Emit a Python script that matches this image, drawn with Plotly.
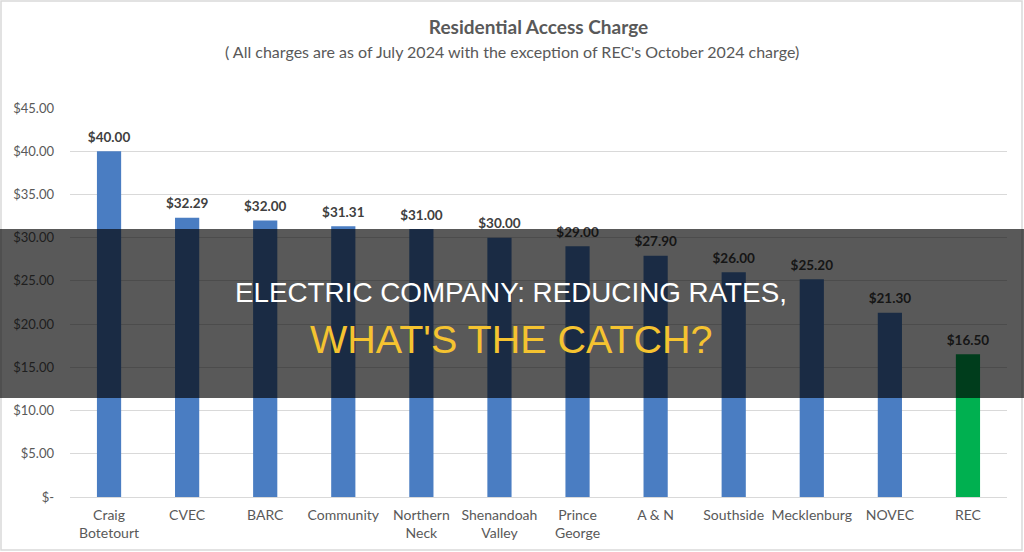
import plotly.graph_objects as go

# ---- data ----
categories = ["Craig<br>Botetourt", "CVEC", "BARC", "Community", "Northern<br>Neck",
              "Shenandoah<br>Valley", "Prince<br>George", "A & N", "Southside",
              "Mecklenburg", "NOVEC", "REC"]
charges = [40.00, 32.29, 32.00, 31.31, 31.00, 30.00, 29.00, 27.90, 26.00, 25.20, 21.30, 16.50]
bar_colors = ["#4A7DC2"] * 11 + ["#00B050"]
y_tickvals = [0, 5, 10, 15, 20, 25, 30, 35, 40, 45]
y_ticktext = ["$-", "$5.00", "$10.00", "$15.00", "$20.00", "$25.00",
              "$30.00", "$35.00", "$40.00", "$45.00"]

title_text = "Residential Access Charge"
subtitle_text = "( All charges are as of July 2024 with the exception of REC's October 2024 charge)"
banner_line1 = "ELECTRIC COMPANY: REDUCING RATES,"
banner_line2 = "WHAT'S THE CATCH?"

W, H = 1024, 552
L, R, T, B = 70, 17, 108, 55
pw, ph = W - L - R, H - T - B

def px_x(x):
    return (x - L) / pw

def px_y(y):
    return (H - B - y) / ph

fig = go.Figure()
fig.add_trace(go.Bar(
    x=categories, y=charges,
    marker=dict(color=bar_colors, line=dict(width=0)),
    hoverinfo="skip",
))
fig.add_trace(go.Scatter(
    x=categories, y=charges, mode="markers+text",
    text=[f"${v:.2f}" for v in charges], textposition="top center",
    marker=dict(size=8, color="rgba(0,0,0,0)", line=dict(width=0)),
    textfont=dict(family="Lato", size=13.5, color="#404040", weight="bold"),
    cliponaxis=False, hoverinfo="skip",
))

fig.update_layout(
    width=W, height=H,
    margin=dict(l=L, r=R, t=T, b=B),
    paper_bgcolor="white", plot_bgcolor="white",
    bargap=0.69, showlegend=False,
    font=dict(family="Lato", color="#595959"),
    title=dict(text=title_text, x=0.5, xref="paper", xanchor="center",
               y=1 - 27 / H, yanchor="middle", yref="container",
               font=dict(family="Lato", size=19, color="#595959", weight="bold")),
    xaxis=dict(range=[-0.5, len(categories) - 0.5],
               showgrid=False, showline=False, ticks="", zeroline=False,
               tickfont=dict(family="Lato", size=14, color="#595959"),
               ticklabelstandoff=8),
    yaxis=dict(range=[0, 45], tickvals=y_tickvals, ticktext=y_ticktext,
               showgrid=True, gridcolor="#D9D9D9", gridwidth=1,
               zeroline=True, zerolinecolor="#D9D9D9", zerolinewidth=1,
               showline=False, ticks="",
               tickfont=dict(family="Lato", size=13, color="#595959"),
               ticklabelstandoff=15),
    shapes=[
        dict(type="rect", xref="paper", yref="paper",
             x0=px_x(-2), x1=px_x(W + 2), y0=px_y(398), y1=px_y(229),
             fillcolor="rgba(0,0,0,0.65)", line=dict(width=0), layer="above"),
        dict(type="rect", xref="paper", yref="paper",
             x0=px_x(1), x1=px_x(W - 2), y0=px_y(H - 2), y1=px_y(1),
             fillcolor="rgba(0,0,0,0)", line=dict(color="#D9D9D9", width=1.5),
             layer="below"),
    ],
    annotations=[
        dict(text=subtitle_text, xref="paper", yref="paper", x=px_x(W / 2), y=px_y(51),
             xanchor="center", yanchor="middle", showarrow=False,
             font=dict(family="Lato", size=16, color="#595959")),
        dict(text=banner_line1, xref="paper", yref="paper", x=px_x(511), y=px_y(292),
             xanchor="center", yanchor="middle", showarrow=False,
             font=dict(family="Liberation Sans", size=27.8, color="white")),
        dict(text=banner_line2, xref="paper", yref="paper", x=px_x(511), y=px_y(339),
             xanchor="center", yanchor="middle", showarrow=False,
             font=dict(family="Liberation Sans", size=39.5, color="#F5C330")),
    ],
)

fig.write_html("out.html")
